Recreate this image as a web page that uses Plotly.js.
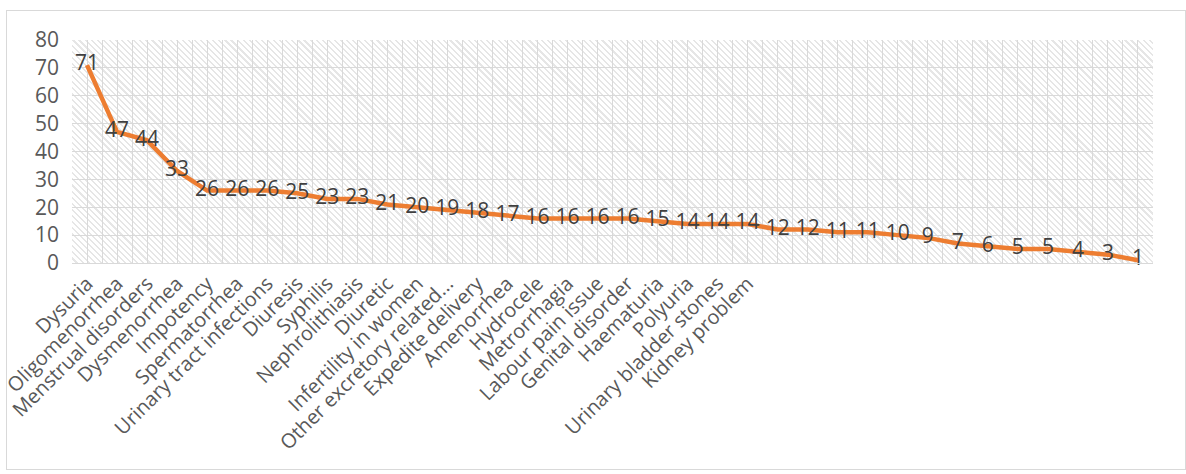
<!DOCTYPE html>
<html>
<head>
<meta charset="utf-8">
<script src="https://cdn.plot.ly/plotly-3.0.1.min.js"></script>
<style>
  html, body { margin: 0; padding: 0; background: #ffffff; }
  #wrap { position: relative; width: 1186px; height: 474px; overflow: hidden; }
  #frame { position: absolute; left: 6px; top: 10px; width: 1180px; height: 460px; border: 1px solid #d9d9d9; box-sizing: border-box; }
  #hatch { position: absolute; left: 72px; top: 40px; width: 1081px; height: 223px;
    background: repeating-linear-gradient(45deg, #ffffff 0px, #ffffff 2.8px, #e6e6e6 2.8px, #e6e6e6 4.3px); }
  #chart { position: absolute; left: 0; top: 0; width: 1186px; height: 474px; }
</style>
</head>
<body>
<div id="wrap">
  <div id="frame"></div>
  <div id="hatch"></div>
  <div id="chart"></div>
</div>
<script>
const categories = [
  "Dysuria", "Oligomenorrhea", "Menstrual disorders", "Dysmenorrhea", "Impotency",
  "Spermatorrhea", "Urinary tract infections", "Diuresis", "Syphilis", "Nephrolithiasis",
  "Diuretic", "Infertility in women", "Other excretory related...", "Expedite delivery",
  "Amenorrhea", "Hydrocele", "Metrorrhagia", "Labour pain issue", "Genital disorder",
  "Haematuria", "Polyuria", "Urinary bladder stones", "Kidney problem",
  "", "", "", "", "", "", "", "", "", "", "", "", ""
];
const values = [71, 47, 44, 33, 26, 26, 26, 25, 23, 23, 21, 20, 19, 18, 17, 16, 16, 16, 16, 15,
  14, 14, 14, 12, 12, 11, 11, 10, 9, 7, 6, 5, 5, 4, 3, 1];
const yTicks = [0, 10, 20, 30, 40, 50, 60, 70, 80];

const idx = values.map((v, i) => i);

const trace = {
  x: idx,
  y: values,
  type: "scatter",
  mode: "lines+text",
  text: values.map(String),
  textposition: "middle center",
  textfont: { family: "Open Sans, sans-serif", size: 21, color: "#404040" },
  line: { color: "#ED7D31", width: 4.5, shape: "linear" },
  cliponaxis: false,
  hoverinfo: "x+y"
};

const layout = {
  width: 1186,
  height: 474,
  margin: { l: 72, r: 33, t: 40, b: 211, pad: 0 },
  paper_bgcolor: "rgba(0,0,0,0)",
  plot_bgcolor: "rgba(0,0,0,0)",
  showlegend: false,
  font: { family: "Open Sans, sans-serif", color: "#595959" },
  xaxis: {
    range: [-0.5, values.length - 0.5],
    tickmode: "array",
    tickvals: idx,
    ticktext: categories,
    tickangle: -45,
    tickfont: { family: "Open Sans, sans-serif", size: 20, color: "#595959" },
    showgrid: true,
    gridcolor: "#d9d9d9",
    gridwidth: 1,
    minor: { tickmode: "linear", tick0: -0.5, dtick: 1, showgrid: true, gridcolor: "#d9d9d9", gridwidth: 1, ticklen: 0 },
    showline: true,
    linecolor: "#d9d9d9",
    linewidth: 1,
    ticks: "",
    zeroline: false,
    fixedrange: true
  },
  yaxis: {
    range: [0, 80],
    tickmode: "array",
    tickvals: yTicks,
    ticktext: yTicks.map(String),
    tickfont: { family: "Open Sans, sans-serif", size: 21, color: "#595959" },
    showgrid: true,
    gridcolor: "#d9d9d9",
    gridwidth: 1,
    zeroline: false,
    showline: false,
    ticks: "",
    ticklabelstandoff: 12,
    fixedrange: true
  }
};

Plotly.newPlot("chart", [trace], layout, { displayModeBar: false, staticPlot: true });
</script>
</body>
</html>
